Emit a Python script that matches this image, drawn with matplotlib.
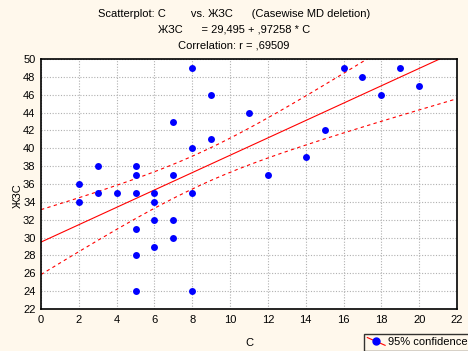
import matplotlib

matplotlib.use("Agg")

import matplotlib.pyplot as plt
import numpy as np
from matplotlib.legend_handler import HandlerBase
from matplotlib.lines import Line2D

plt.rcParams["font.family"] = ["Liberation Sans", "DejaVu Sans"]

c_vals = [2, 2, 3, 3, 4, 5, 5, 5, 5, 5, 5, 6, 6, 6, 6, 7, 7, 7, 7,
          8, 8, 8, 8, 9, 9, 11, 12, 14, 15, 16, 17, 18, 19, 20]
zhs_vals = [36, 34, 38, 35, 35, 38, 37, 35, 31, 28, 24, 35, 34, 32, 29, 43, 37, 32, 30,
            49, 40, 35, 24, 46, 41, 44, 37, 39, 42, 49, 48, 46, 49, 47]
intercept = 29.495
slope = 0.97258
t_crit = 2.0369  # t(0.975, df=32)

BG = "#fff8ec"


class DiagHandler(HandlerBase):
    def create_artists(self, legend, orig, xd, yd, w, h, fontsize, trans):
        ln = Line2D([xd, xd + w], [yd + h, yd], color="red", lw=0.8, transform=trans)
        mk = Line2D([xd + w / 2], [yd + h / 2], marker="o", color="blue",
                    markersize=5, linestyle="none", transform=trans)
        return [ln, mk]


x = np.asarray(c_vals, dtype=float)
y = np.asarray(zhs_vals, dtype=float)
n = x.size
resid = y - (intercept + slope * x)
s = np.sqrt(np.sum(resid ** 2) / (n - 2))
sxx = np.sum((x - x.mean()) ** 2)

xs = np.linspace(0, 22, 200)
fit = intercept + slope * xs
half = t_crit * s * np.sqrt(1 / n + (xs - x.mean()) ** 2 / sxx)

fig = plt.figure(figsize=(4.68, 3.51), dpi=100, facecolor=BG)
ax = fig.add_axes([41 / 468, 42 / 351, 416 / 468, 250 / 351])
ax.set_facecolor("white")

ax.plot(xs, fit, color="red", lw=0.8)
ax.plot(xs, fit + half, color="red", lw=0.8, dashes=(3, 3))
ax.plot(xs, fit - half, color="red", lw=0.8, dashes=(3, 3))
ax.plot(x, y, "o", color="blue", markersize=5, markeredgewidth=0, zorder=3)

ax.set_xlim(0, 22)
ax.set_ylim(22, 50)
ax.set_xticks(np.arange(0, 23, 2))
ax.set_yticks(np.arange(22, 51, 2))
ax.tick_params(labelsize=8, length=0, pad=4)
ax.grid(True, color="#b0b0b0", linestyle=(0, (1, 1.5)), lw=0.8)
for sp in ax.spines.values():
    sp.set_linewidth(1.2)
    sp.set_color("black")

ax.set_xlabel("C", fontsize=8, labelpad=10)
ax.set_ylabel("ЖЗС", fontsize=8)
ax.yaxis.set_label_coords(-0.044, 0.455)

fig.text(234 / 468, 1 - 14 / 351, "Scatterplot: C        vs. ЖЗС      (Casewise MD deletion)",
         ha="center", va="center", fontsize=8)
fig.text(234 / 468, 1 - 30 / 351, "ЖЗС      = 29,495 + ,97258 * C",
         ha="center", va="center", fontsize=8)
fig.text(234 / 468, 1 - 45 / 351, "Correlation: r = ,69509",
         ha="center", va="center", fontsize=8)

handle = Line2D([], [])
leg = fig.legend([handle], ["95% confidence"], handler_map={Line2D: DiagHandler()},
                 loc="upper left", bbox_to_anchor=(364 / 468, 1 - 334 / 351),
                 fontsize=8, frameon=True, fancybox=False, handlelength=1.6,
                 handletextpad=0.3, borderpad=0.3, borderaxespad=0)
leg.get_frame().set_edgecolor("black")
leg.get_frame().set_facecolor(BG)
leg.get_frame().set_linewidth(1.0)

fig.savefig("out.png", dpi=100, facecolor=BG)
plt.close(fig)
